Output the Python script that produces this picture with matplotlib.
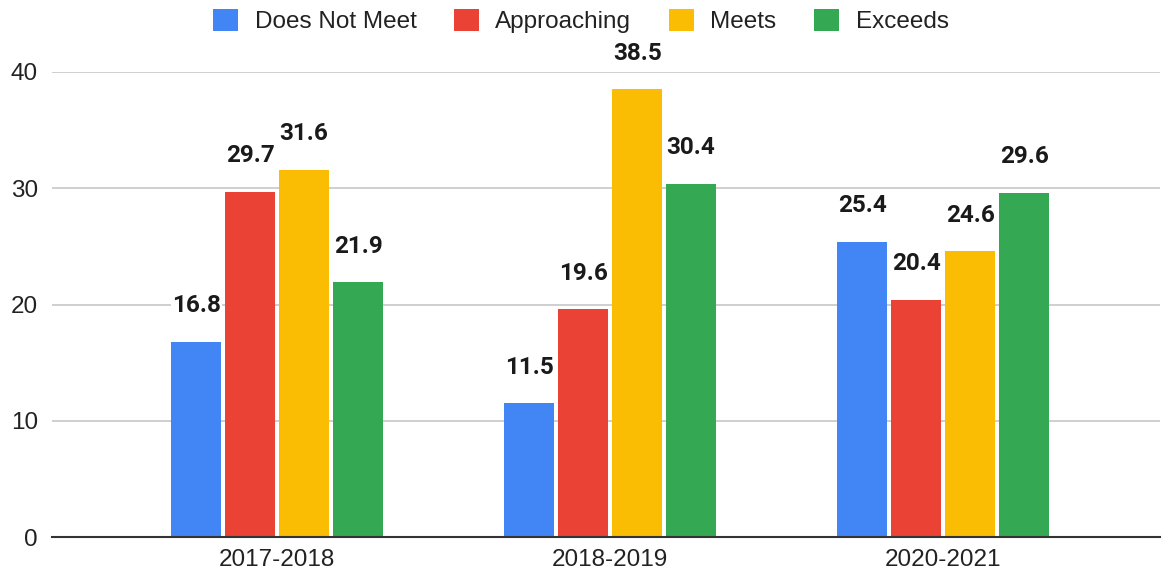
import matplotlib
matplotlib.use("Agg")
import matplotlib.pyplot as plt
import numpy as np

categories = ["2017-2018", "2018-2019", "2020-2021"]
series_names = ["Does Not Meet", "Approaching", "Meets", "Exceeds"]
does_not_meet = [16.8, 11.5, 25.4]
approaching = [29.7, 19.6, 20.4]
meets = [31.6, 38.5, 24.6]
exceeds = [21.9, 30.4, 29.6]
y_ticks = [0, 10, 20, 30, 40]

colors = ["#4285F4", "#EA4335", "#FBBC04", "#34A853"]
series = [does_not_meet, approaching, meets, exceeds]

W, H = 1162, 575
fig = plt.figure(figsize=(W / 100, H / 100), dpi=100)
ax = fig.add_axes([52 / W, 1 - 537 / H, (1160 - 52) / W, (537 - 72) / H])

x = np.arange(len(categories))
bar_w = 0.150
step = 0.162
offsets = (np.arange(4) - 1.5) * step

fs = 17.5
for i, (name, vals) in enumerate(zip(series_names, series)):
    bars = ax.bar(x + offsets[i], vals, width=bar_w, color=colors[i], label=name, zorder=3)
    for xi, v in zip(x + offsets[i], vals):
        ax.annotate(f"{v:.1f}", xy=(xi, v), xytext=(0, 36 * 0.72), textcoords="offset points",
                    ha="center", va="center", fontsize=fs, fontweight="bold",
                    family=["Roboto", "DejaVu Sans"], color="#1a1a1a", zorder=5,
                    bbox=dict(boxstyle="square,pad=0.05", fc="white", ec="none"),
                    annotation_clip=False)

ax.set_xlim(-0.676, 2.651)
ax.set_ylim(0, 40)
ax.set_yticks(y_ticks)
ax.set_xticks(x)
ax.set_xticklabels(categories)
ax.grid(axis="y", color="#cccccc", linewidth=1.3, zorder=0)
ax.set_axisbelow(True)
for s in ["top", "right", "left"]:
    ax.spines[s].set_visible(False)
ax.spines["bottom"].set_color("#333333")
ax.spines["bottom"].set_linewidth(1.5)
ax.spines["bottom"].set_zorder(4)
ax.tick_params(axis="both", length=0, labelsize=fs, labelcolor="#222222")
ax.tick_params(axis="y", pad=10)
ax.tick_params(axis="x", pad=9)
for lab in ax.get_xticklabels() + ax.get_yticklabels():
    lab.set_family(["Liberation Sans", "DejaVu Sans"])

leg = fig.legend(loc="center", bbox_to_anchor=(0.5, 1 - 21 / H), ncol=4, frameon=False,
                 prop={"family": ["Liberation Sans", "DejaVu Sans"], "size": fs},
                 handlelength=1.0, handleheight=1.0, handletextpad=0.69, columnspacing=1.56)
for t in leg.get_texts():
    t.set_color("#222222")

fig.savefig("out.png", dpi=100)
